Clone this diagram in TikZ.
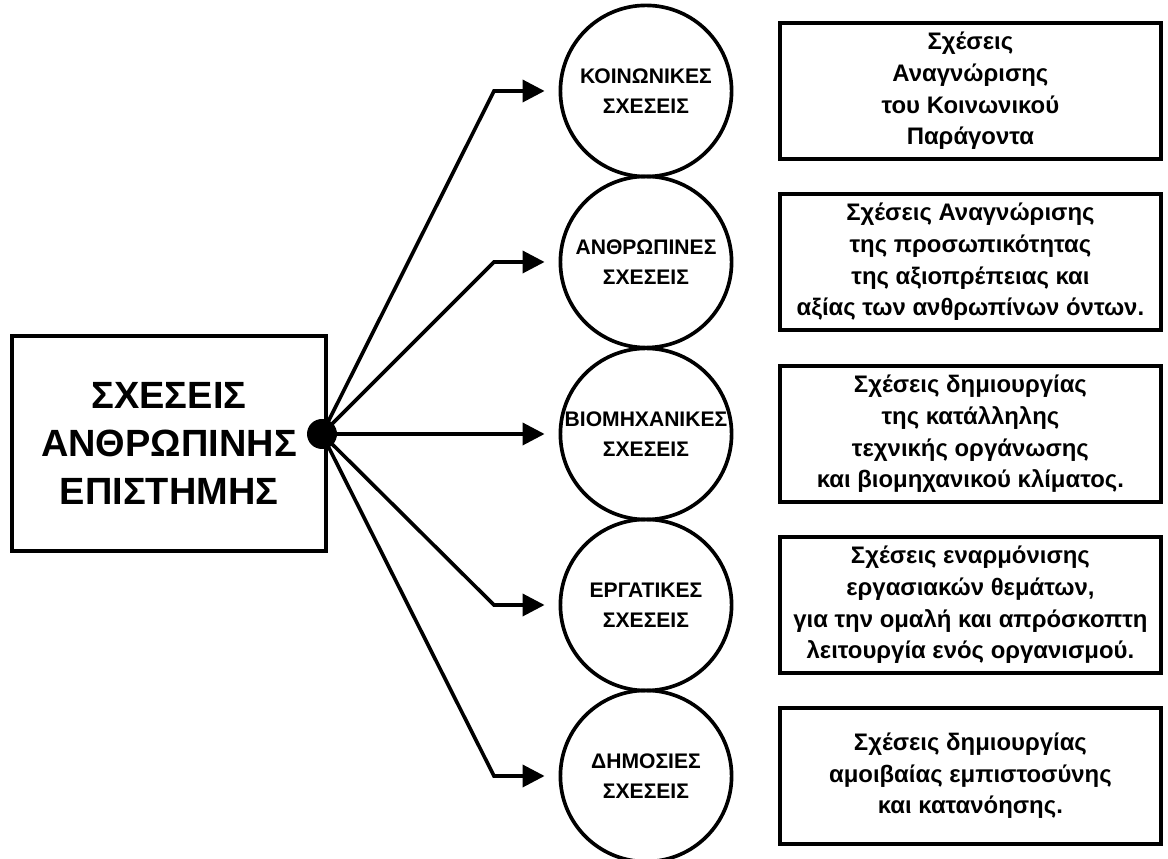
\documentclass[tikz,border=0pt]{standalone}
\usepackage{fontspec}
\setmainfont{Liberation Sans}
\usetikzlibrary{arrows.meta}

\begin{document}
\begin{tikzpicture}[
        line width=2.6pt,
        >={Triangle[length=0.55cm, width=0.55cm]},
        mainbox/.style={draw, minimum width=7.85cm, minimum height=5.375cm,
            align=center, font=\fontsize{27}{34}\selectfont\bfseries},
        relcircle/.style={draw, circle, minimum size=4.28cm, inner sep=0pt,
            align=center, font=\fontsize{15}{21}\selectfont\bfseries},
        goalbox/.style={draw, minimum width=9.525cm, minimum height=3.4cm,
            inner sep=1pt, align=center,
            font=\fontsize{17}{22.5}\selectfont\bfseries},
        hubdot/.style={circle, fill, minimum size=0.75cm, inner sep=0pt},
        branch/.style={->, shorten >=0.35cm}]
      \useasboundingbox (0,0) rectangle (29.2,21.475);
      \node[mainbox] (main) at (4.225,10.39)
            {ΣΧΕΣΕΙΣ\\ΑΝΘΡΩΠΙΝΗΣ\\ΕΠΙΣΤΗΜΗΣ};
      \node[hubdot] (hub) at (8.05,10.625) {};
      % relations
      \node[relcircle] (social)   at (16.15,19.2)   {ΚΟΙΝΩΝΙΚΕΣ\\ΣΧΕΣΕΙΣ};
      \node[relcircle] (human)    at (16.15,14.925) {ΑΝΘΡΩΠΙΝΕΣ\\ΣΧΕΣΕΙΣ};
      \node[relcircle] (industry) at (16.15,10.625) {ΒΙΟΜΗΧΑΝΙΚΕΣ\\ΣΧΕΣΕΙΣ};
      \node[relcircle] (labour)   at (16.15,6.35)   {ΕΡΓΑΤΙΚΕΣ\\ΣΧΕΣΕΙΣ};
      \node[relcircle] (public)   at (16.15,2.075)  {ΔΗΜΟΣΙΕΣ\\ΣΧΕΣΕΙΣ};
      % descriptions
      \node[goalbox] (socialtxt) at (24.26,19.2)
            {Σχέσεις\\Αναγνώρισης\\του Κοινωνικού\\Παράγοντα};
      \node[goalbox] (humantxt) at (24.26,14.925)
            {Σχέσεις Αναγνώρισης\\της προσωπικότητας\\της αξιοπρέπειας και\\αξίας των ανθρωπίνων όντων.};
      \node[goalbox] (industrytxt) at (24.26,10.625)
            {Σχέσεις δημιουργίας\\της κατάλληλης\\τεχνικής οργάνωσης\\και βιομηχανικού κλίματος.};
      \node[goalbox] (labourtxt) at (24.26,6.35)
            {Σχέσεις εναρμόνισης\\εργασιακών θεμάτων,\\για την ομαλή και απρόσκοπτη\\λειτουργία ενός οργανισμού.};
      \node[goalbox] (publictxt) at (24.26,2.075)
            {Σχέσεις δημιουργίας\\αμοιβαίας εμπιστοσύνης\\και κατανόησης.};
      % bends of the branches
      \coordinate (k1) at (12.35,19.2);
      \coordinate (k2) at (12.35,14.925);
      \coordinate (k4) at (12.35,6.35);
      \coordinate (k5) at (12.35,2.075);
      \draw[branch] (hub.center) -- (k1) -- (social.west);
      \draw[branch] (hub.center) -- (k2) -- (human.west);
      \draw[branch] (hub.center) -- (industry.west);
      \draw[branch] (hub.center) -- (k4) -- (labour.west);
      \draw[branch] (hub.center) -- (k5) -- (public.west);
    \end{tikzpicture}
\end{document}
